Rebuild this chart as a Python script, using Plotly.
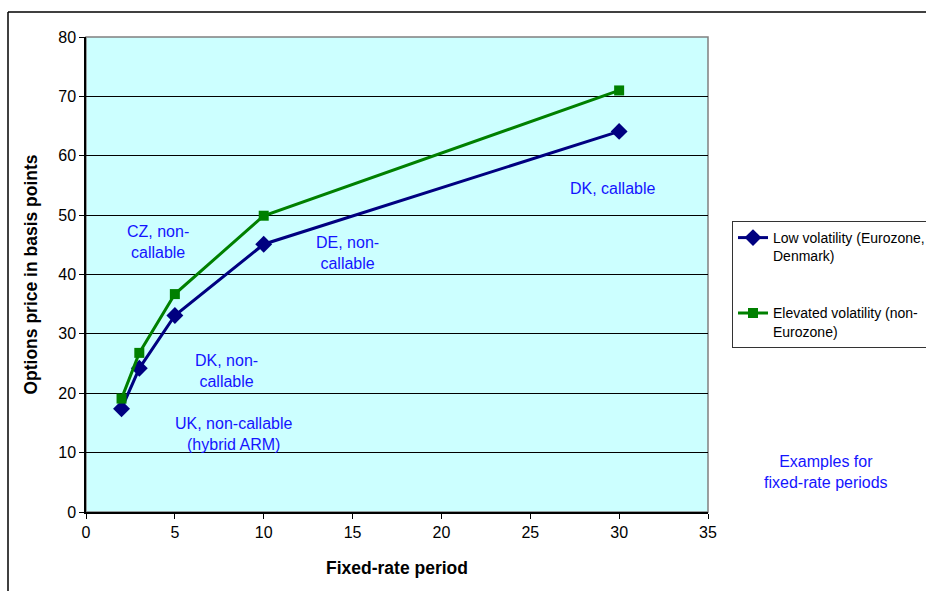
import plotly.graph_objects as go

periods = [2, 3, 5, 10, 30]
low_vol = [17.4, 24.2, 33.1, 45.1, 64.1]
high_vol = [19.1, 26.8, 36.7, 49.9, 71.0]

low_name = "Low volatility (Eurozone,<br>Denmark)"
high_name = "Elevated volatility (non-<br>Eurozone)"

notes_text = ["CZ, non-<br>callable", "DE, non-<br>callable", "DK, callable",
              "DK, non-<br>callable", "UK, non-callable<br>(hybrid ARM)"]
notes_x = [4.05, 14.7, 29.6, 7.93, 8.34]
notes_y = [45.5, 43.6, 54.5, 23.8, 13.15]

W, H = 926, 591
L, R, T, B = 86, 218, 37, 79
pw, ph = W - L - R, H - T - B

def px(xpix):
    return (xpix - L) / pw

def py(ypix):
    return (H - B - ypix) / ph

font = "Liberation Sans, Arial, sans-serif"
ann_color = "#1414ff"

fig = go.Figure()
fig.add_trace(go.Scatter(
    x=periods, y=low_vol, name=low_name, mode="lines+markers",
    line=dict(color="#000080", width=3),
    marker=dict(symbol="diamond", size=13, color="#000080"),
    legendgroup="a",
))
fig.add_trace(go.Scatter(
    x=periods, y=high_vol, name=high_name, mode="lines+markers",
    line=dict(color="#008000", width=3),
    marker=dict(symbol="square", size=10, color="#008000"),
    legendgroup="b",
))

annotations = []
for t, xv, yv in zip(notes_text, notes_x, notes_y):
    annotations.append(dict(x=xv, y=yv, xref="x", yref="y", text=t, showarrow=False,
                            xanchor="center", yanchor="middle",
                            font=dict(family=font, size=16, color=ann_color), align="center"))
annotations.append(dict(x=px(826), y=py(472), xref="paper", yref="paper",
                        xanchor="center", yanchor="middle",
                        text="Examples for<br>fixed-rate periods", showarrow=False,
                        font=dict(family=font, size=16, color=ann_color), align="center"))

shapes = [
    dict(type="line", xref="paper", yref="paper", x0=px(8), x1=px(W + 5), y0=py(12), y1=py(12),
         line=dict(color="black", width=1.5)),
    dict(type="line", xref="paper", yref="paper", x0=px(8), x1=px(8), y0=py(12), y1=py(H + 5),
         line=dict(color="black", width=1.5)),
    dict(type="rect", xref="paper", yref="paper", x0=0, x1=1, y0=0, y1=1,
         line=dict(color="#808080", width=1.5), layer="below"),
]

fig.update_layout(
    width=W, height=H,
    margin=dict(l=L, r=R, t=T, b=B, autoexpand=False),
    paper_bgcolor="white",
    plot_bgcolor="#CCFFFF",
    font=dict(family=font, size=16, color="black"),
    showlegend=True,
    legend=dict(
        x=px(732), y=py(221), xanchor="left", yanchor="top",
        bordercolor="#333333", borderwidth=1, bgcolor="white",
        font=dict(family=font, size=14, color="black"),
        valign="top", tracegroupgap=36, traceorder="grouped",
        itemwidth=30,
    ),
    xaxis=dict(
        range=[0, 35], dtick=5, tick0=0, showgrid=False, zeroline=False,
        showline=True, linecolor="black", linewidth=1.5,
        ticks="outside", ticklen=5, tickcolor="black",
        title=dict(text="<b>Fixed-rate period</b>", font=dict(size=17.5), standoff=22),
        tickfont=dict(size=16),
    ),
    yaxis=dict(
        range=[0, 80], dtick=10, tick0=0, showgrid=True, gridcolor="black", gridwidth=1,
        zeroline=False, showline=True, linecolor="black", linewidth=1.5,
        ticks="outside", ticklen=5, tickcolor="black",
        title=dict(text="<b>Options price in basis points</b>", font=dict(size=17.5), standoff=16),
        tickfont=dict(size=16),
    ),
    annotations=annotations,
    shapes=shapes,
)

fig.write_html("out.html", config={"displayModeBar": False},
               post_script="document.body.style.margin='0';")
